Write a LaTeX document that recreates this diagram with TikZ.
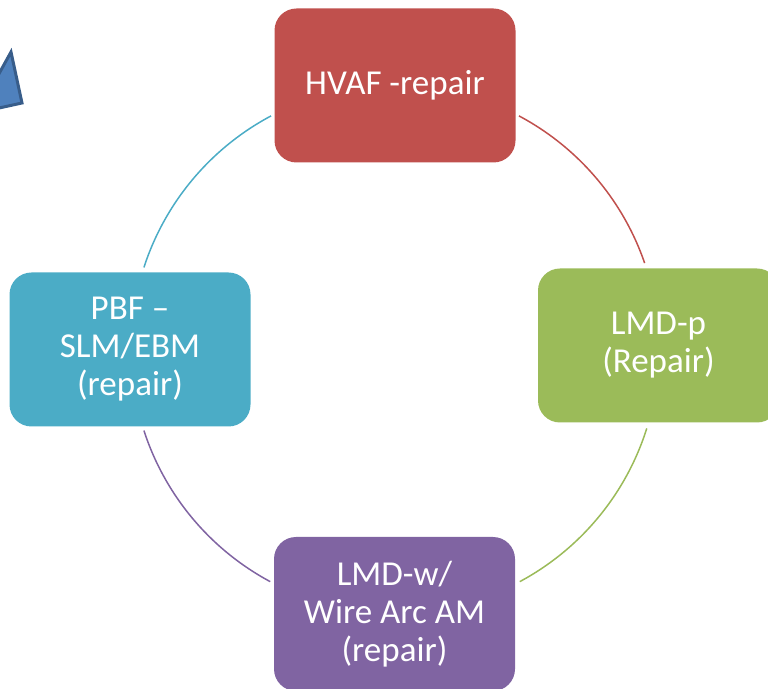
\documentclass[tikz,border=0pt]{standalone}
\usepackage{fontspec}
\setmainfont{Carlito}
\usetikzlibrary{calc}
\definecolor{cred}{HTML}{C0504D}
\definecolor{cgreen}{HTML}{9BBB59}
\definecolor{cpurple}{HTML}{8064A2}
\definecolor{cteal}{HTML}{4BACC6}
\definecolor{cblue}{HTML}{4F81BD}
\definecolor{cblueb}{HTML}{385D8A}
\tikzset{
  box/.style={rounded corners=22pt, minimum width=241pt, minimum height=154pt,
    inner sep=0pt, text=white, align=center,
    font=\fontsize{35}{38}\selectfont},
  ring/.style={line width=1.5pt},
}
\begin{document}
\begin{tikzpicture}[x=1pt,y=1pt]
\useasboundingbox (0,0) rectangle (768,688);
\clip (0,0) rectangle (768,688);
% partial blue shape at top-left
\draw[fill=cblue, draw=cblueb, line width=3pt, line join=miter]
  (-10,598) -- (11,636) -- (22,585) -- (-10,578);
\coordinate (c) at (395,339);
\draw[ring, cred] ([shift={(62:264)}]c) arc[start angle=62, end angle=19, radius=264];
\draw[ring, cgreen] ([shift={(-17.5:264)}]c) arc[start angle=-17.5, end angle=-61.8, radius=264];
\draw[ring, cpurple] ([shift={(-118.2:264)}]c) arc[start angle=-118.2, end angle=-162, radius=264];
\draw[ring, cteal] ([shift={(162:264)}]c) arc[start angle=162, end angle=118, radius=264];
\node[box, fill=cred] (hvaf) at (395,602.5) {HVAF -repair};
\node[box, fill=cgreen] (lmdp) at (658.5,342.5) {LMD-p\\(Repair)};
\node[box, fill=cpurple] (lmdw) at (394.5,74) {LMD-w/\\Wire Arc AM\\(repair)};
\node[box, fill=cteal] (pbf) at (130,338.5) {PBF –\\SLM/EBM\\(repair)};
\end{tikzpicture}
\end{document}
